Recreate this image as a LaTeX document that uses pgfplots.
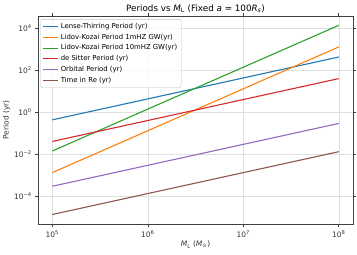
\documentclass[border=0pt]{standalone}
\usepackage{pgfplots}
\pgfplotsset{compat=1.18}
\usepackage{fontspec}
\setmainfont{DejaVu Sans}
\definecolor{c0}{HTML}{1F77B4}
\definecolor{c1}{HTML}{FF7F0E}
\definecolor{c2}{HTML}{2CA02C}
\definecolor{c3}{HTML}{D62728}
\definecolor{c4}{HTML}{9467BD}
\definecolor{c5}{HTML}{8C564B}
\newcommand{\lf}{\fontsize{6.9}{8}\selectfont}
\begin{document}
\begin{tikzpicture}
\begin{axis}[
  scale only axis,
  width=315bp, height=208bp,
  xmode=log, ymode=log,
  log basis x=10, log basis y=10,
  xmin=70795, xmax=1.41e8,
  ymin=4.57e-6, ymax=3.9e4,
  axis line style={black!75, line width=0.6bp},
  tick style={black!75, line width=0.6bp},
  tick align=outside,
  major tick length=2.7bp, minor tick length=1.6bp,
  xtick={1e5,1e6,1e7,1e8},
  xticklabels={10\textsuperscript{5},10\textsuperscript{6},10\textsuperscript{7},10\textsuperscript{8}},
  ytick={1e-4,1e-2,1,1e2,1e4},
  yticklabels={10\textsuperscript{−4},10\textsuperscript{−2},10\textsuperscript{0},10\textsuperscript{2},10\textsuperscript{4}},
  yminorticks=false,
  ticklabel style={font=\fontsize{7.5}{9}\selectfont, black!80},
  xmajorgrids, ymajorgrids, xminorgrids,
  major grid style={black!12, line width=0.5bp},
  minor grid style={black!15, dotted, line width=0.5bp},
  every axis title shift=0pt,
  title={Periods vs \textit{M}\textsubscript{L} (Fixed \textit{a} = 100\textit{R}\textsubscript{\textit{s}})},
  title style={font=\fontsize{8.8}{10}\selectfont, at={(0.5,1)}, anchor=south, yshift=2bp, inner sep=1bp},
  xlabel={\textit{M}\textsubscript{L} (\textit{M}\textsubscript{⊙})},
  ylabel={Period (yr)},
  label style={font=\fontsize{7.5}{9}\selectfont, black!80},
  xlabel style={yshift=3bp},
  ylabel style={yshift=-3bp},
  legend cell align=left,
  legend image code/.code={\draw[#1, line width=1.1bp] (0bp,0bp) -- (15bp,0bp);},
  legend style={at={(0.008,0.985)}, anchor=north west,
    draw=black!25, rounded corners=2bp, fill=white, fill opacity=0.8, text opacity=1,
    row sep=0bp, inner sep=2bp},
  every axis plot/.append style={line width=1.1bp},
]
\addplot[c0] coordinates {(1e5,0.43) (1e6,4.3) (1e7,43) (1e8,430)};
\addlegendentry{\lf Lense-Thirring Period (yr)}
\addplot[c1] coordinates {(1e5,1.3e-3) (1e6,0.13) (1e7,13) (1e8,1300)};
\addlegendentry{\lf Lidov-Kozai Period 1mHZ GW(yr)}
\addplot[c2] coordinates {(1e5,0.014) (1e6,1.4) (1e7,140) (1e8,1.4e4)};
\addlegendentry{\lf Lidov-Kozai Period 10mHZ GW(yr)}
\addplot[c3] coordinates {(1e5,0.04) (1e6,0.4) (1e7,4) (1e8,40)};
\addlegendentry{\lf de Sitter Period (yr)}
\addplot[c4] coordinates {(1e5,2.9e-4) (1e6,2.9e-3) (1e7,0.029) (1e8,0.29)};
\addlegendentry{\lf Orbital Period (yr)}
\addplot[c5] coordinates {(1e5,1.3e-5) (1e6,1.3e-4) (1e7,1.3e-3) (1e8,1.3e-2)};
\addlegendentry{\lf Time in Re (yr)}
\end{axis}
\pgfresetboundingbox
\useasboundingbox (current axis.south west) ++(-38bp,-30bp) rectangle ([xshift=4bp,yshift=16bp]current axis.north east);
\end{tikzpicture}
\end{document}
